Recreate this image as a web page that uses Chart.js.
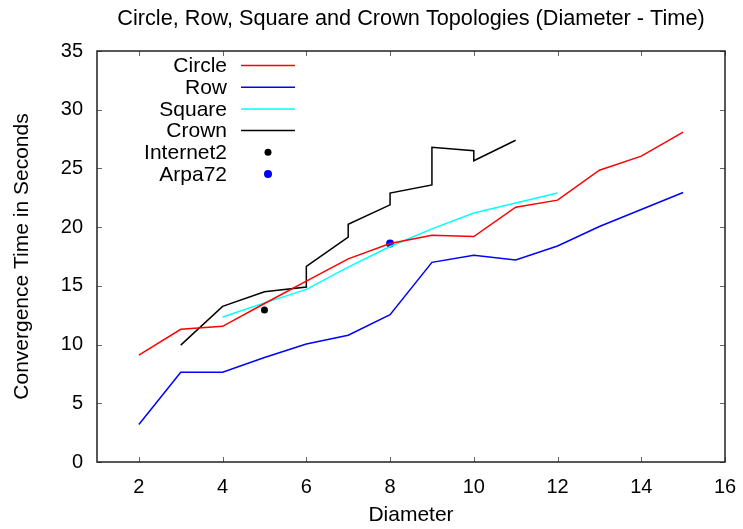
<!DOCTYPE html>
<html>
<head>
<meta charset="utf-8">
<script src="https://cdn.jsdelivr.net/npm/chart.js@4.4.1/dist/chart.umd.min.js"></script>
<style>
  html, body { margin: 0; padding: 0; background: #fff; }
</style>
</head>
<body>
<canvas id="chart" width="743" height="529"></canvas>
<script>
// ======= DATA =======
const chartTitle = 'Circle, Row, Square and Crown Topologies (Diameter - Time)';
const xTicks = [2, 4, 6, 8, 10, 12, 14, 16];
const yTicks = [0, 5, 10, 15, 20, 25, 30, 35];

const diameters = [2, 3, 4, 5, 6, 7, 8, 9, 10, 11, 12, 13, 14, 15];
const circleTime = [9.1, 11.3, 11.55, 13.5, 15.4, 17.3, 18.6, 19.3, 19.2, 21.7, 22.3, 24.85, 26.05, 28.1];
const rowTime = [3.2, 7.65, 7.65, 8.9, 10.05, 10.8, 12.55, 17.0, 17.6, 17.2, 18.4, 20.05, 21.5, 22.95];

const squareDiam = [4, 5, 6, 7, 8, 9, 10, 11, 12];
const squareTime = [12.35, 13.55, 14.7, 16.6, 18.35, 19.85, 21.2, 22.05, 22.9];

const crownDiam = [3, 4, 5, 6, 6, 7, 7, 8, 8, 9, 9, 10, 10, 11];
const crownTime = [9.95, 13.25, 14.5, 14.9, 16.65, 19.15, 20.25, 21.9, 22.9, 23.6, 26.8, 26.5, 25.65, 27.4];

const internet2Diam = [5];
const internet2Time = [12.95];
const arpa72Diam = [8];
const arpa72Time = [18.6];

const FONT = "'Liberation Sans', Arial, sans-serif";

const toPoints = (xs, ys) => xs.map((x, i) => ({ x: x, y: ys[i] }));

// ======= FRAME, TITLE, LEGEND (gnuplot style) =======
const gnuplotFrame = {
  id: 'gnuplotFrame',
  afterDatasetsDraw(chart) {
    const { ctx, chartArea: a, scales } = chart;
    ctx.save();

    // inward ticks on all four sides
    ctx.strokeStyle = '#666';
    ctx.lineWidth = 1;
    ctx.beginPath();
    xTicks.forEach(v => {
      const px = Math.round(scales.x.getPixelForValue(v)) + 0.5;
      ctx.moveTo(px, a.bottom); ctx.lineTo(px, a.bottom - 5);
      ctx.moveTo(px, a.top); ctx.lineTo(px, a.top + 5);
    });
    yTicks.forEach(v => {
      const py = Math.round(scales.y.getPixelForValue(v)) + 0.5;
      ctx.moveTo(a.left, py); ctx.lineTo(a.left + 5, py);
      ctx.moveTo(a.right, py); ctx.lineTo(a.right - 5, py);
    });
    ctx.stroke();

    // border
    ctx.strokeStyle = '#222';
    ctx.lineWidth = 1.5;
    ctx.strokeRect(a.left, a.top, a.right - a.left, a.bottom - a.top);

    // title
    ctx.fillStyle = '#000';
    ctx.font = '21.7px ' + FONT;
    ctx.textAlign = 'center';
    ctx.textBaseline = 'middle';
    ctx.fillText(chartTitle, (a.left + a.right) / 2, 19);

    // legend
    ctx.font = '21px ' + FONT;
    chart.data.datasets.forEach((ds, i) => {
      const y = 65.5 + i * 21.7;
      ctx.fillStyle = '#000';
      ctx.textAlign = 'right';
      ctx.fillText(ds.label, 227, y + 1);
      if (ds.showLine === false) {
        ctx.fillStyle = ds.pointBackgroundColor;
        ctx.beginPath();
        ctx.arc(268, y, ds.pointRadius, 0, Math.PI * 2);
        ctx.fill();
      } else {
        ctx.strokeStyle = ds.borderColor;
        ctx.lineWidth = ds.borderWidth;
        ctx.beginPath();
        ctx.moveTo(241, y);
        ctx.lineTo(295, y);
        ctx.stroke();
      }
    });

    ctx.restore();
  }
};

// ======= CHART =======
const lineSet = (label, xs, ys, color) => ({
  label: label,
  data: toPoints(xs, ys),
  borderColor: color,
  backgroundColor: color,
  borderWidth: 1.5,
  pointRadius: 0,
  tension: 0
});

const dotSet = (label, xs, ys, color, r) => ({
  label: label,
  data: toPoints(xs, ys),
  showLine: false,
  pointRadius: r,
  pointBackgroundColor: color,
  pointBorderColor: color,
  pointBorderWidth: 0
});

new Chart(document.getElementById('chart'), {
  type: 'line',
  data: {
    datasets: [
      lineSet('Circle', diameters, circleTime, '#ff0000'),
      lineSet('Row', diameters, rowTime, '#0000ff'),
      lineSet('Square', squareDiam, squareTime, '#00ffff'),
      lineSet('Crown', crownDiam, crownTime, '#000000'),
      dotSet('Internet2', internet2Diam, internet2Time, '#000000', 3.5),
      dotSet('Arpa72', arpa72Diam, arpa72Time, '#0000ff', 4)
    ]
  },
  options: {
    responsive: false,
    animation: false,
    layout: { padding: { top: 51, right: 18, left: 0, bottom: 0 } },
    plugins: {
      legend: { display: false },
      tooltip: { enabled: false },
      title: { display: false }
    },
    scales: {
      x: {
        type: 'linear',
        min: 1,
        max: 16,
        afterBuildTicks: scale => { scale.ticks = xTicks.map(v => ({ value: v })); },
        afterFit: scale => {
          scale.height = 67;
          scale.paddingLeft = 0;
          scale.paddingRight = 0;
        },
        grid: { display: false, drawTicks: false },
        border: { display: false },
        ticks: { color: '#000', padding: 13, font: { family: FONT, size: 20 } },
        title: {
          display: true,
          text: 'Diameter',
          color: '#000',
          padding: { top: 0, bottom: 1 },
          font: { family: FONT, size: 21 }
        }
      },
      y: {
        min: 0,
        max: 35,
        afterBuildTicks: scale => { scale.ticks = yTicks.map(v => ({ value: v })); },
        afterFit: scale => { scale.width = 97; },
        grid: { display: false, drawTicks: false },
        border: { display: false },
        ticks: { color: '#000', padding: 14, font: { family: FONT, size: 20 } },
        title: {
          display: true,
          text: 'Convergence Time in Seconds',
          color: '#000',
          padding: { top: 10, bottom: 0 },
          font: { family: FONT, size: 21 }
        }
      }
    }
  },
  plugins: [gnuplotFrame]
});
</script>
</body>
</html>
